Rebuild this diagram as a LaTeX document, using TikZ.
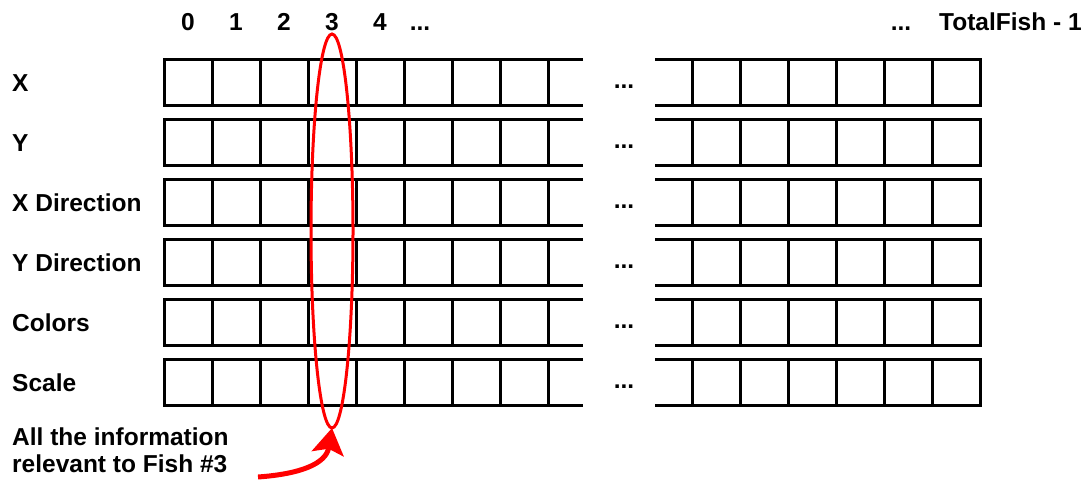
\documentclass[tikz,border=0pt]{standalone}
\usepackage{fontspec}
\setmainfont{Liberation Sans}
\usetikzlibrary{shapes.geometric,arrows.meta}
\begin{document}
\begin{tikzpicture}[x=1pt,y=-1pt,
  txt/.style={font=\fontsize{24.5}{28}\selectfont\bfseries, inner sep=0pt},
  lbl/.style={txt, anchor=base west},
  hdr/.style={txt, anchor=base},
  grid/.style={line width=3pt, black, line join=miter},
  sel/.style={ellipse, draw=red, line width=3pt, inner sep=0pt, outer sep=0pt, minimum width=42pt, minimum height=394pt},
  pointer/.style={red, line width=5pt, -{Stealth[length=26pt,width=32pt,inset=5pt]}}]
\useasboundingbox (0,0) rectangle (1086,479);
% header
\foreach \k in {0,...,4} {
  \node[hdr] (h\k) at ({188+48*\k},30) {\k};
}
\node[hdr] (hdots) at (420,30) {...};
\node[hdr] (hrdots) at (901,30) {...};
\node[lbl] (hlast) at (939,30) {TotalFish - 1};
% rows
\foreach \name [count=\i from 0] in {X,Y,X Direction,Y Direction,Colors,Scale} {
  \pgfmathsetmacro{\top}{59+60*\i}
  \pgfmathsetmacro{\bot}{\top+46}
  \node[lbl] (r\i) at (12,\top+32) {\name};
  \draw[grid] (583,\top) -- (164,\top) -- (164,\bot) -- (583,\bot);
  \foreach \k in {1,...,8} { \draw[grid] ({164+48*\k},\top) -- ({164+48*\k},\bot); }
  \node[hdr] (d\i) at (624,\top+29) {...};
  \draw[grid] (655,\top) -- (980,\top) -- (980,\bot) -- (655,\bot);
  \foreach \k in {1,...,6} { \draw[grid] ({980-48*\k},\top) -- ({980-48*\k},\bot); }
}
% selection ellipse
\node[sel] (fish) at (332,231) {};
% note
\node[lbl] (note1) at (12,445) {All the information};
\node[lbl] (note2) at (12,472) {relevant to Fish \#3};
\coordinate (tail) at (258,477);
\draw[pointer] (tail) .. controls (300,474) and (326,464) .. (fish.south);
\end{tikzpicture}
\end{document}
